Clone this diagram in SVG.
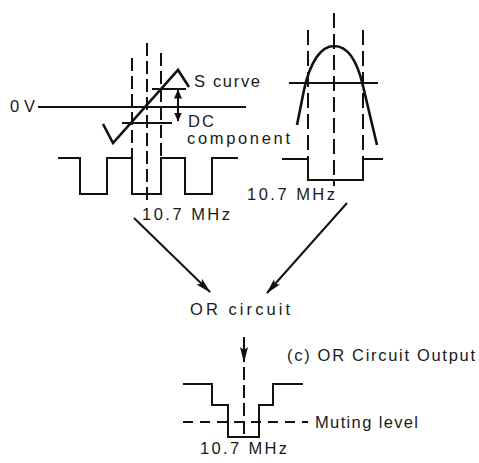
<svg xmlns="http://www.w3.org/2000/svg" width="479" height="463" viewBox="0 0 479 463">
<defs>
<marker id="ah" viewBox="0 0 16 10" refX="15" refY="5" markerWidth="16" markerHeight="10" markerUnits="userSpaceOnUse" orient="auto">
<path d="M0,1 L16,5 L0,9 L3,5 Z" fill="#111"/>
</marker>
<marker id="sh" viewBox="0 0 9 8" refX="8.5" refY="4" markerWidth="9" markerHeight="8" markerUnits="userSpaceOnUse" orient="auto-start-reverse">
<path d="M0,0 L9,4 L0,8 Z" fill="#111"/>
</marker>
<style>
.ln{fill:none;stroke:#111;stroke-width:2;stroke-linejoin:miter}
.cv{fill:none;stroke:#111;stroke-width:2.6}
.da{fill:none;stroke:#111;stroke-width:2;stroke-dasharray:13 5}
.db{fill:none;stroke:#111;stroke-width:2;stroke-dasharray:15 6}
.dm{fill:none;stroke:#111;stroke-width:2;stroke-dasharray:10 7}
.t{font-family:"Liberation Sans",Arial,sans-serif;font-size:16.5px;fill:#1a1a1a}
.ar{fill:none;stroke:#111;stroke-width:2}
</style>
</defs>
<rect width="479" height="463" fill="#fff"/>

<g id="left-diagram">
<text class="t" x="10" y="112" textLength="25" lengthAdjust="spacing">0V</text>
<line class="ln" x1="38" y1="107" x2="246" y2="107"/>
<line class="da" x1="132" y1="58" x2="132" y2="195"/>
<line class="da" x1="147" y1="43" x2="147" y2="203"/>
<line class="da" x1="161" y1="53" x2="161" y2="195"/>
<path class="cv" d="M103,124 L113,143 L178,70 L189,87"/>
<line class="ln" x1="152" y1="89" x2="186" y2="89"/>
<line class="ln" x1="122" y1="123" x2="172" y2="123"/>
<line class="ln" x1="178" y1="90" x2="178" y2="121" marker-start="url(#sh)" marker-end="url(#sh)"/>
<text class="t" x="194" y="87" textLength="66" lengthAdjust="spacing">S curve</text>
<text class="t" x="188" y="127" textLength="26" lengthAdjust="spacing">DC</text>
<text class="t" x="187" y="144" textLength="103" lengthAdjust="spacing">component</text>
<path class="ln" d="M58,158 H80 V194 H107 V158 H132 V194 H161 V158 H185 V194 H212 V158 H238"/>
<text class="t" x="142" y="220" textLength="88" lengthAdjust="spacing">10.7 MHz</text>
</g>

<g id="right-diagram">
<line class="db" x1="308" y1="30" x2="308" y2="180"/>
<line class="db" x1="334" y1="13" x2="334" y2="186"/>
<line class="db" x1="363" y1="30" x2="363" y2="180"/>
<line class="ln" x1="289" y1="83" x2="378" y2="83"/>
<path class="cv" d="M297,125 L304,90 C310,62 321,46 334,46 C347,46 357,60 363,86 L377,145"/>
<path class="ln" d="M282,159 H308 V180 H363 V159 H383"/>
<text class="t" x="247" y="200" textLength="88" lengthAdjust="spacing">10.7 MHz</text>
</g>

<g id="or-circuit">
<text class="t" x="190" y="315" textLength="100" lengthAdjust="spacing">OR circuit</text>
</g>

<g id="output-diagram">
<text class="t" x="287" y="361" textLength="188" lengthAdjust="spacing">(c)  OR Circuit Output</text>
<line class="dm" x1="183" y1="422" x2="308" y2="422"/>
<line class="da" x1="244" y1="367" x2="244" y2="439"/>
<path class="ln" d="M183,384 H212 V405 H228 V437 H259 V405 H273 V384 H303"/>
<text class="t" x="315" y="428" textLength="103" lengthAdjust="spacing">Muting level</text>
<text class="t" x="200" y="454" textLength="87" lengthAdjust="spacing">10.7 MHz</text>
</g>

<g id="connectors">
<line class="ar" x1="134" y1="218" x2="210" y2="292" marker-end="url(#ah)"/>
<line class="ar" x1="347" y1="203" x2="267" y2="293" marker-end="url(#ah)"/>
<line class="ar" x1="244" y1="337" x2="244" y2="362" marker-end="url(#ah)"/>
</g>
</svg>
